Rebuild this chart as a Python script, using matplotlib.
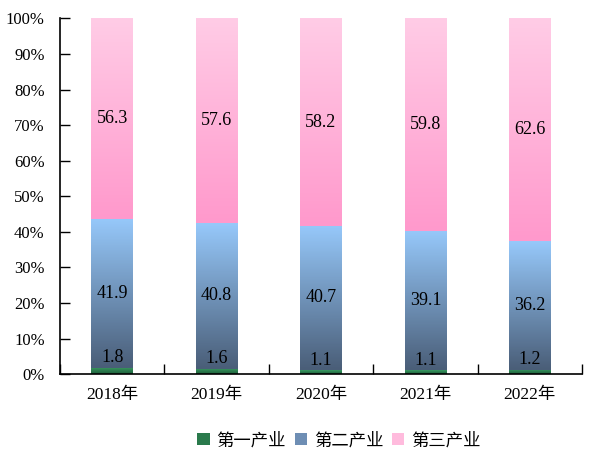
import numpy as np
import matplotlib.pyplot as plt
from matplotlib.colors import LinearSegmentedColormap
from matplotlib.patches import Patch
from matplotlib.ticker import FuncFormatter, MultipleLocator

plt.rcParams['font.family'] = ['Liberation Serif', 'Noto Sans CJK SC', 'DejaVu Sans']
plt.rcParams['font.size'] = 12

years = ['2018年', '2019年', '2020年', '2021年', '2022年']
primary = [1.8, 1.6, 1.1, 1.1, 1.2]
secondary = [41.9, 40.8, 40.7, 39.1, 36.2]
tertiary = [56.3, 57.6, 58.2, 59.8, 62.6]
series_names = ['第一产业', '第二产业', '第三产业']

# gradient colours (bottom -> top)
grads = [
    ['#1E5E3A', '#3A9A62'],
    ['#4A5E78', '#96C8FA'],
    ['#FF99CC', '#FFCCE6'],
]

fig = plt.figure(figsize=(6, 4.62), dpi=100)
ax = fig.add_axes([0.1, 0.19, 0.87, 0.77])

x = np.arange(len(years))
width = 0.4
bottom = np.zeros(len(years))
for vals, g in zip([primary, secondary, tertiary], grads):
    vals = np.array(vals)
    bars = ax.bar(x, vals, width, bottom=bottom, color='none', edgecolor='none')
    cmap = LinearSegmentedColormap.from_list('g', g)
    for b in bars:
        x0, y0 = b.get_x(), b.get_y()
        w, h = b.get_width(), b.get_height()
        img = ax.imshow(np.linspace(0, 1, 100).reshape(-1, 1), cmap=cmap, origin='lower',
                        extent=[x0, x0 + w, y0, y0 + h], aspect='auto', zorder=1)
        img.set_clip_path(b)
    bottom = bottom + vals

# labels
for i in range(len(years)):
    ax.text(x[i], primary[i] + 2.8, f'{primary[i]:.1f}', ha='center', va='center', fontsize=13)
    ax.text(x[i], primary[i] + secondary[i] / 2, f'{secondary[i]:.1f}', ha='center', va='center', fontsize=13)
    ax.text(x[i], primary[i] + secondary[i] + tertiary[i] / 2, f'{tertiary[i]:.1f}', ha='center', va='center', fontsize=13)

ax.set_xlim(-0.5, len(years) - 0.5)
ax.set_ylim(0, 100)
ax.yaxis.set_major_locator(MultipleLocator(10))
ax.yaxis.set_major_formatter(FuncFormatter(lambda v, p: f'{v:.0f}%'))
ax.set_xticks(x)
ax.set_xticklabels(years, fontsize=12.5)
ax.set_xticks(np.arange(len(years) + 1) - 0.5, minor=True)
ax.tick_params(axis='x', which='major', length=0, pad=9)
ax.tick_params(axis='x', which='minor', direction='in', length=7, width=1)
ax.tick_params(axis='y', direction='in', length=7, width=1, pad=11)
for s in ['top', 'right']:
    ax.spines[s].set_visible(False)
for s in ['left', 'bottom']:
    ax.spines[s].set_linewidth(1.2)

handles = [Patch(facecolor=c, edgecolor='none') for c in ['#2A7A4C', '#6E8EB4', '#FFBBDD']]
fig.legend(handles, series_names, loc='center', bbox_to_anchor=(0.565, 0.045), ncol=3,
           frameon=False, handlelength=0.7, handleheight=0.7, handletextpad=0.4, columnspacing=0.5,
           fontsize=12.5)

fig.savefig('out.png', dpi=100)
